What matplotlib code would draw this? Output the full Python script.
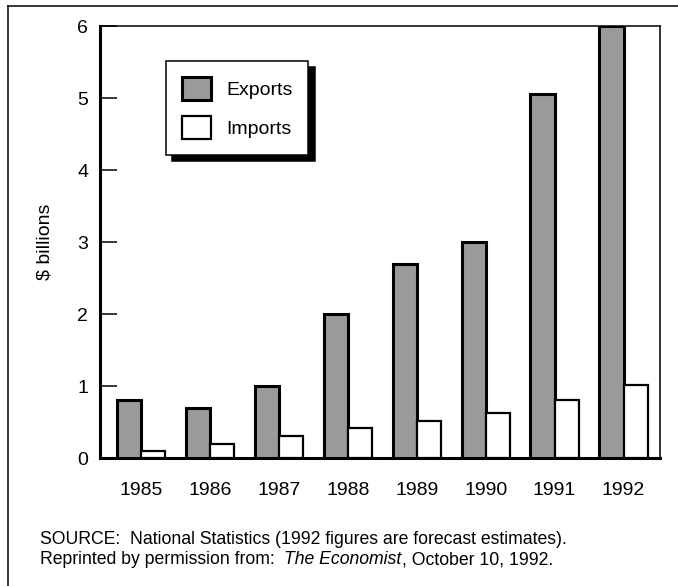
import matplotlib.pyplot as plt
import numpy as np
from matplotlib.lines import Line2D

plt.rcParams['font.family'] = ['Liberation Sans', 'DejaVu Sans']

years = ['1985', '1986', '1987', '1988', '1989', '1990', '1991', '1992']
exports = [0.8, 0.7, 1.0, 2.0, 2.7, 3.0, 5.05, 6.0]
imports = [0.1, 0.2, 0.3, 0.42, 0.52, 0.62, 0.8, 1.02]
yticks = [0, 1, 2, 3, 4, 5, 6]

fig = plt.figure(figsize=(6.78, 5.86), dpi=100)
ax = fig.add_axes([0.1475, 0.2184, 0.826, 0.7372])

x = np.arange(len(years))
w = 0.35
ax.bar(x - w / 2, exports, w, color='#9a9a9a', edgecolor='black', linewidth=2.2,
       label='Exports', zorder=3)
ax.bar(x + w / 2, imports, w, color='white', edgecolor='black', linewidth=1.6,
       label='Imports', zorder=3)

ax.set_xlim(-0.595, 7.53)
ax.set_ylim(0, 6)
ax.set_xticks(x)
ax.set_xticklabels(years, fontsize=14)
ax.set_yticks(yticks)
ax.set_yticklabels([str(t) for t in yticks], fontsize=14)
ax.tick_params(axis='x', length=0, pad=17)
ax.tick_params(axis='y', direction='in', length=12, width=1.1, pad=8.6)
ax.set_ylabel('$ billions', fontsize=14, labelpad=17)

for side in ['left', 'bottom']:
    ax.spines[side].set_linewidth(2.2)
for side in ['top', 'right']:
    ax.spines[side].set_linewidth(1.1)

leg = ax.legend(loc='upper left', bbox_to_anchor=(0.118, 0.919), borderaxespad=0,
                fontsize=14, handlelength=1.5, handleheight=1.45,
                labelspacing=0.85, borderpad=0.8, handletextpad=0.8,
                fancybox=False, edgecolor='black', framealpha=1,
                shadow={'ox': 4.5, 'oy': -4.5, 'color': 'black', 'alpha': 1})
leg.get_frame().set_linewidth(1.1)

# border around the figure (top and left only visible)
fig.add_artist(Line2D([8 / 678, 8 / 678], [0, 1 - 6 / 586], color='black', linewidth=1.1))
fig.add_artist(Line2D([8 / 678, 1], [1 - 6 / 586, 1 - 6 / 586], color='black', linewidth=1.1))

fs = 12.7
fig.text(0.059, 0.0785, 'SOURCE:  National Statistics (1992 figures are forecast estimates).',
         fontsize=fs, va='center', ha='left')
t1 = fig.text(0.059, 0.0444, 'Reprinted by permission from:', fontsize=fs,
              va='center', ha='left')
t2 = ax.annotate('The Economist', xy=(1, 0), xycoords=t1, xytext=(7, 0),
                 textcoords='offset points', fontsize=fs, style='italic',
                 va='bottom', ha='left', annotation_clip=False)
t3 = ax.annotate(', October 10, 1992.', xy=(1, 0), xycoords=t2, xytext=(0, 0),
                 textcoords='offset points', fontsize=fs,
                 va='bottom', ha='left', annotation_clip=False)

fig.savefig('out.png', dpi=100)
